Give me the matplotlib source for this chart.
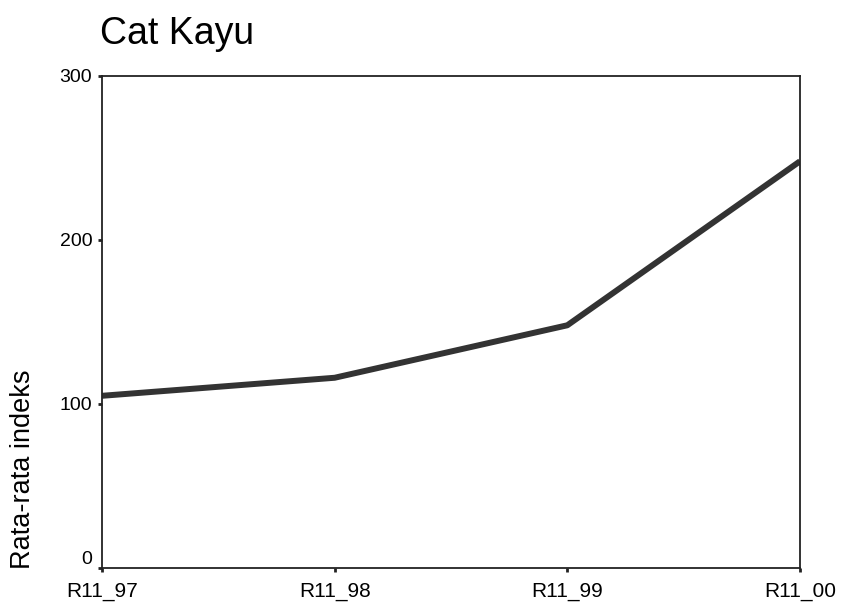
import matplotlib
matplotlib.use("Agg")
import matplotlib.pyplot as plt

plt.rcParams["font.family"] = ["Liberation Sans", "DejaVu Sans"]

periods = ["R11_97", "R11_98", "R11_99", "R11_00"]
mean_index = [105, 116, 148, 248]
y_ticks = [0, 100, 200, 300]


def main():
    fig = plt.figure(figsize=(8.47, 6.06), dpi=100)
    ax = fig.add_axes([0.1204, 0.0627, 0.8241, 0.8119])

    x = range(len(periods))
    ax.plot(x, mean_index, color="#333333", lw=4.3, solid_capstyle="butt")

    ax.set_xlim(0, len(periods) - 1)
    ax.set_ylim(0, 300)
    ax.set_xticks(list(x))
    ax.set_xticklabels(periods, fontsize=15)
    ax.set_yticks(y_ticks)
    ax.set_yticklabels([str(v) for v in y_ticks], fontsize=14)
    ax.tick_params(axis="x", length=3, width=2, color="#222222", pad=7)
    ax.tick_params(axis="y", length=3, width=2, color="#222222", pad=4)
    # the 0 label sits a little above the axis line in the original
    ax.get_yticklabels()[0].set_va("bottom")
    for s in ax.spines.values():
        s.set_linewidth(1.3)
        s.set_color("#222222")

    fig.text(0.118, 0.944, "Cat Kayu", fontsize=27, ha="left", va="center")
    fig.text(0.027, 0.226, "Rata-rata indeks", fontsize=19.5, rotation=90,
             ha="center", va="center")

    fig.savefig("out.png", dpi=100)


if __name__ == "__main__":
    main()
